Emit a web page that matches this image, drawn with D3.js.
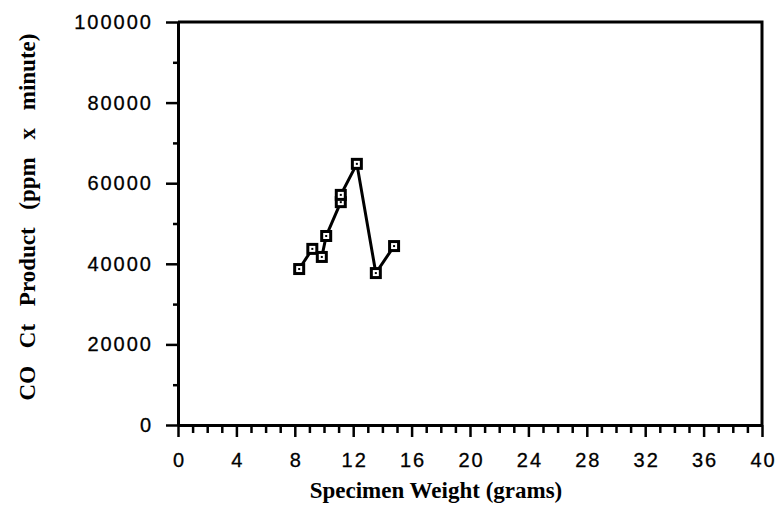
<!DOCTYPE html>
<html>
<head>
<meta charset="utf-8">
<style>
body { margin: 0; background: #fff; }
svg { display: block; }
.tick text { font-family: "Liberation Sans", Arial, Helvetica, sans-serif; font-size: 20px; letter-spacing: 2px; fill: #000; stroke: #000; stroke-width: 0.3px; }
.title { font-family: "Liberation Serif", "Times New Roman", serif; font-weight: bold; font-size: 23px; fill: #000; }
</style>
</head>
<body>
<svg width="781" height="515"></svg>
<script src="https://cdn.jsdelivr.net/npm/d3@7"></script>
<script>
// specimen weight (grams) vs CO Ct product (ppm x minute)
var weights = [8.3, 9.2, 9.85, 10.15, 11.15, 11.15, 12.25, 13.55, 14.8];
var ctProduct = [38700, 43700, 41700, 46900, 55300, 57100, 64800, 37700, 44400];

var xMajor = [0, 4, 8, 12, 16, 20, 24, 28, 32, 36, 40];
var xMinor = [1, 2, 3, 5, 6, 7, 9, 10, 11, 13, 14, 15, 17, 18, 19, 21, 22, 23, 25, 26, 27, 29, 30, 31, 33, 34, 35, 37, 38, 39];
var yMajor = [0, 20000, 40000, 60000, 80000, 100000];
var yMinor = [10000, 30000, 50000, 70000, 90000];

var svg = d3.select("svg");

var x = d3.scaleLinear().domain([0, 40]).range([178, 762]);
var y = d3.scaleLinear().domain([0, 100000]).range([425, 22]);

var data = weights.map(function(w, i) { return {w: w, v: ctProduct[i]}; });

// frame (top + right)
svg.append("path")
    .attr("d", "M" + x(0) + "," + y(100000) + "H" + x(40) + "V" + y(0))
    .attr("fill", "none")
    .attr("stroke", "#000")
    .attr("stroke-width", 3);

// minor ticks
svg.append("g")
    .attr("transform", "translate(0," + y(0) + ")")
    .call(d3.axisBottom(x).tickValues(xMinor).tickSize(8).tickFormat(""))
    .call(function(g) { g.select(".domain").remove(); })
    .selectAll("line").attr("stroke-width", 2.5);

svg.append("g")
    .attr("transform", "translate(" + x(0) + ",0)")
    .call(d3.axisLeft(y).tickValues(yMinor).tickSize(5).tickFormat(""))
    .call(function(g) { g.select(".domain").remove(); })
    .selectAll("line").attr("stroke-width", 2.5);

// major axes
var xAxis = svg.append("g")
    .attr("transform", "translate(0," + y(0) + ")")
    .call(d3.axisBottom(x).tickValues(xMajor).tickSize(12).tickSizeOuter(0).tickPadding(16));
xAxis.select(".domain").attr("stroke-width", 3);
xAxis.selectAll("line").attr("stroke-width", 2.5);
xAxis.selectAll("text").attr("dx", "1");

var yAxis = svg.append("g")
    .attr("transform", "translate(" + x(0) + ",0)")
    .call(d3.axisLeft(y).tickValues(yMajor).tickFormat(d3.format("d")).tickSize(12).tickSizeOuter(0).tickPadding(13));
yAxis.select(".domain").attr("stroke-width", 3);
yAxis.selectAll("line").attr("stroke-width", 2.5);

// line
var line = d3.line()
    .x(function(d) { return x(d.w); })
    .y(function(d) { return y(d.v); });

svg.append("path")
    .datum(data)
    .attr("d", line)
    .attr("fill", "none")
    .attr("stroke", "#000")
    .attr("stroke-width", 3);

// square markers
var pts = svg.selectAll(".pt")
    .data(data)
    .enter().append("g")
    .attr("class", "pt")
    .attr("transform", function(d) { return "translate(" + x(d.w) + "," + y(d.v) + ")"; });

pts.append("rect").attr("x", -6).attr("y", -6).attr("width", 12).attr("height", 12).attr("fill", "#000");
pts.append("rect").attr("x", -3).attr("y", -3).attr("width", 6).attr("height", 6).attr("fill", "#fff");
pts.append("rect").attr("x", -1).attr("y", -1).attr("width", 2).attr("height", 2).attr("fill", "#000");

// titles
svg.append("text")
    .attr("class", "title")
    .attr("x", 436)
    .attr("y", 498)
    .attr("text-anchor", "middle")
    .text("Specimen Weight (grams)");

svg.append("text")
    .attr("class", "title")
    .attr("transform", "translate(35,217) rotate(-90)")
    .attr("text-anchor", "middle")
    .style("word-spacing", "12px")
    .text("CO Ct Product (ppm x minute)");
</script>
</body>
</html>
